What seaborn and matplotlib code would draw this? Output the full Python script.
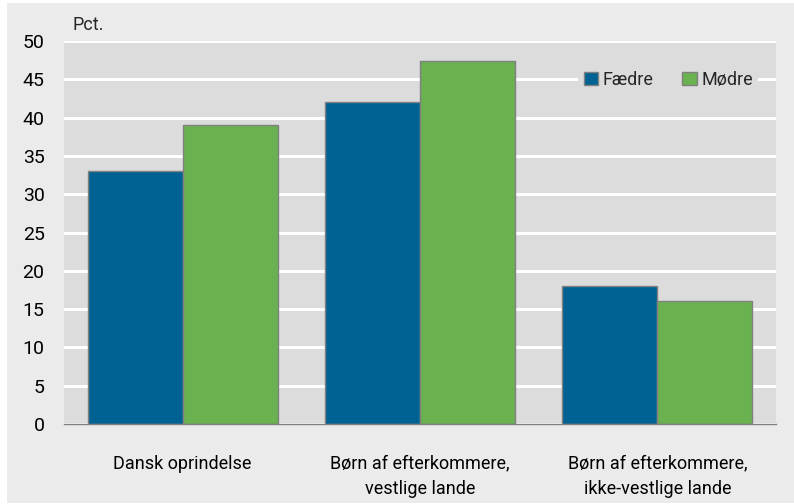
import numpy as np
import pandas as pd
import matplotlib.pyplot as plt
import seaborn as sns
from matplotlib.patches import Rectangle

# Data
categories = ['Dansk oprindelse', 'Børn af efterkommere,\nvestlige lande',
              'Børn af efterkommere,\nikke-vestlige lande']
faedre = [33, 42, 18]
moedre = [39, 47.4, 16]
series = ['Fædre', 'Mødre']
colors = ['#006293', '#6ab150']

df = pd.DataFrame({
    'kategori': categories * 2,
    'gruppe': [series[0]] * 3 + [series[1]] * 3,
    'pct': faedre + moedre,
})

sns.set_theme(style='white')
plt.rcParams['font.family'] = ['Roboto', 'DejaVu Sans']

fig = plt.figure(figsize=(7.94, 5.04), dpi=100, facecolor='white')
# outer grey frame
fig.patches.append(Rectangle((7 / 794, 1 / 504), 1 - 7 / 794, 1 - 4 / 504,
                             transform=fig.transFigure, facecolor='#ebebeb',
                             edgecolor='none', zorder=-10))
ax = fig.add_axes([64 / 794, 80 / 504, 712 / 794, 383 / 504])
ax.set_facecolor('#dcdcdc')

sns.barplot(data=df, x='kategori', y='pct', hue='gruppe', palette=colors,
            width=0.8, edgecolor='#808080', linewidth=1, saturation=1, ax=ax)

ax.set_ylim(0, 50)
ax.set_xlim(-0.5, 2.5)
ax.set_yticks(range(0, 51, 5))
ax.yaxis.grid(True, color='white', linewidth=2.2)
ax.set_axisbelow(True)
for s in ['top', 'right', 'left']:
    ax.spines[s].set_visible(False)
ax.spines['bottom'].set_color('#808080')
ax.spines['bottom'].set_linewidth(1)
ax.tick_params(axis='y', length=0, pad=14, labelsize=14, colors='black')
ax.tick_params(axis='x', length=0, pad=22, labelsize=13, colors='black')
for lbl in ax.get_xticklabels():
    lbl.set_linespacing(1.5)
ax.set_xlabel('')
ax.set_ylabel('')
ax.text(72 / 794, 1 - 25 / 504, 'Pct.', transform=fig.transFigure,
        fontsize=13, va='center', ha='left')

leg = ax.legend(loc='upper right', bbox_to_anchor=(0.988, 0.96), ncol=2,
                frameon=True, facecolor='#dcdcdc', edgecolor='none',
                framealpha=1, fontsize=13, handlelength=0.8, handleheight=0.8,
                handletextpad=0.25, columnspacing=1.6, borderpad=0.3)
leg.get_frame().set_boxstyle('square', pad=0.0)

fig.savefig('out.png', dpi=100, facecolor=fig.get_facecolor())
